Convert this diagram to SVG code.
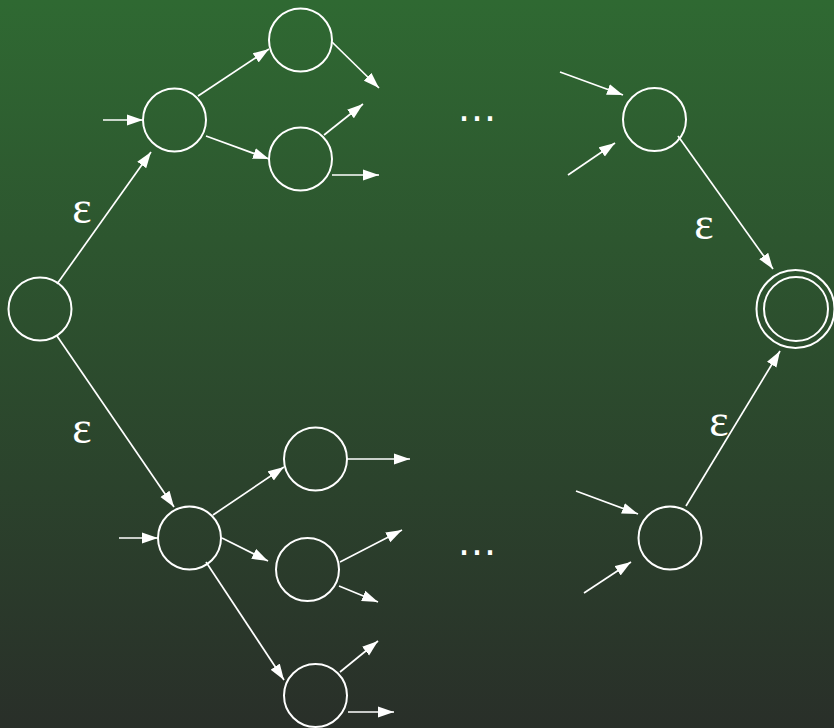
<svg xmlns="http://www.w3.org/2000/svg" width="834" height="728" viewBox="0 0 834 728">
<defs>
<linearGradient id="bg" x1="0" y1="0" x2="0" y2="1">
<stop offset="0" stop-color="#2f6932"/>
<stop offset="1" stop-color="#292f29"/>
</linearGradient>
<marker id="ah" markerUnits="userSpaceOnUse" markerWidth="16" markerHeight="12" refX="16" refY="6" orient="auto">
<path d="M0,0.5 L16,6 L0,11.5 z" fill="#ffffff"/>
</marker>
<style>
.st{fill:none;stroke:#ffffff;stroke-width:2}
.ed{fill:none;stroke:#ffffff;stroke-width:1.7;marker-end:url(#ah)}
.eps{font-family:"Liberation Serif","DejaVu Serif",serif;font-size:46px;fill:#ffffff;text-anchor:middle}
.dots{font-family:"DejaVu Sans",sans-serif;font-size:39px;fill:#ffffff;text-anchor:middle}
</style>
</defs>
<rect width="834" height="728" fill="url(#bg)"/>
<g id="connectors">
<path class="ed" d="M57,284 L151,152"/>
<path class="ed" d="M57,336 L174,507"/>
<path class="ed" d="M103,120 L143,120"/>
<path class="ed" d="M198,96 L269,49"/>
<path class="ed" d="M206,136 L269,159"/>
<path class="ed" d="M332,42 L379,88"/>
<path class="ed" d="M324,135 L363,104"/>
<path class="ed" d="M332,175 L379,175"/>
<path class="ed" d="M560,72 L623,95"/>
<path class="ed" d="M568,175 L615,143"/>
<path class="ed" d="M678,136 L773,269"/>
<path class="ed" d="M119,538 L158,538"/>
<path class="ed" d="M213,515 L284,467"/>
<path class="ed" d="M222,538 L268,561"/>
<path class="ed" d="M206,562 L284,680"/>
<path class="ed" d="M347,459 L410,459"/>
<path class="ed" d="M340,562 L402,530"/>
<path class="ed" d="M339,586 L378,602"/>
<path class="ed" d="M340,672 L378,641"/>
<path class="ed" d="M348,712 L394,712"/>
<path class="ed" d="M576,491 L638,514"/>
<path class="ed" d="M584,593 L631,562"/>
<path class="ed" d="M686,506 L780,351"/>
</g>
<g id="start"><circle class="st" cx="40" cy="309" r="31.5"/></g>
<g id="a"><circle class="st" cx="174.5" cy="120" r="31.5"/></g>
<g id="b"><circle class="st" cx="300.5" cy="40" r="31.5"/></g>
<g id="c"><circle class="st" cx="300.5" cy="159" r="31.5"/></g>
<g id="d"><circle class="st" cx="654.5" cy="119.5" r="31.5"/></g>
<g id="final"><circle class="st" cx="795.5" cy="309" r="39"/><circle class="st" cx="796" cy="309" r="32"/></g>
<g id="e"><circle class="st" cx="189.5" cy="538" r="31.5"/></g>
<g id="f"><circle class="st" cx="315.5" cy="459" r="31.5"/></g>
<g id="g"><circle class="st" cx="307.5" cy="569.5" r="31.5"/></g>
<g id="h"><circle class="st" cx="315.5" cy="695.5" r="31.5"/></g>
<g id="i"><circle class="st" cx="670" cy="538" r="31.5"/></g>
<g id="labels">
<text class="eps" x="82" y="223">ε</text>
<text class="eps" x="82" y="443">ε</text>
<text class="eps" x="704" y="239">ε</text>
<text class="eps" x="719" y="436">ε</text>
<text class="dots" x="477" y="121">…</text>
<text class="dots" x="477" y="555">…</text>
</g>
</svg>
